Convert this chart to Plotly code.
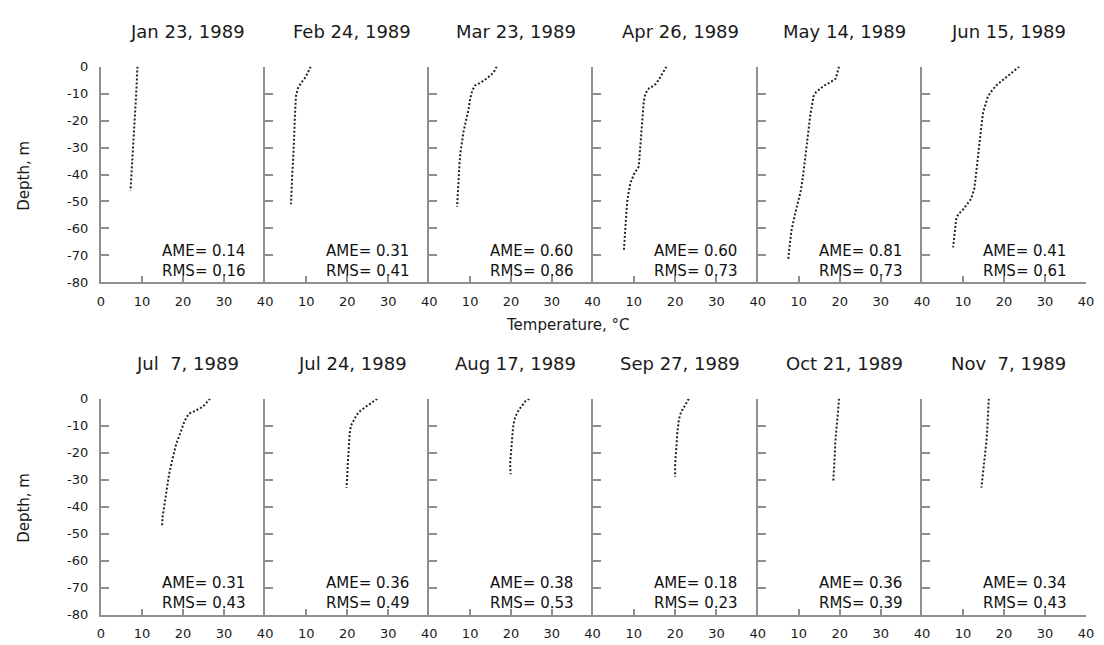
import plotly.graph_objects as go

# ---------------- data ----------------
dates = ["Jan 23, 1989", "Feb 24, 1989", "Mar 23, 1989", "Apr 26, 1989", "May 14, 1989", "Jun 15, 1989",
         "Jul  7, 1989", "Jul 24, 1989", "Aug 17, 1989", "Sep 27, 1989", "Oct 21, 1989", "Nov  7, 1989"]
ame = ["0.14", "0.31", "0.60", "0.60", "0.81", "0.41", "0.31", "0.36", "0.38", "0.18", "0.36", "0.34"]
rms = ["0.16", "0.41", "0.86", "0.73", "0.73", "0.61", "0.43", "0.49", "0.53", "0.23", "0.39", "0.43"]

x_ticks = [0, 10, 20, 30, 40]
y_ticks = [0, -10, -20, -30, -40, -50, -60, -70, -80]
y_ticklabels = ["0", "-10", "-20", "-30", "-40", "-50", "-60", "-70", "-80"]

jan23_t = [8.9, 8.8, 8.6, 8.4, 8.2, 8.0, 7.8, 7.6, 7.4, 7.2]
jan23_d = [0, -5, -10, -15, -20, -25, -30, -35, -40, -46]

feb24_t = [11.1, 10.5, 9.8, 8.8, 8.0, 7.5, 7.3, 7.2, 7.1, 7.0, 6.8, 6.6, 6.5, 6.3]
feb24_d = [0, -2, -4, -6, -8, -11, -15, -20, -25, -30, -35, -40, -45, -51]

mar23_t = [16.5, 16.0, 15.2, 14.0, 12.5, 11.2, 10.5, 10.0, 9.6, 9.0, 8.4, 8.0, 7.6, 7.4, 7.2, 7.0, 6.8]
mar23_d = [0, -1.5, -3, -4.5, -6, -7, -9, -12, -16, -20, -24, -28, -32, -36, -41, -46, -52]

apr26_t = [17.9, 17.2, 16.5, 16.0, 15.0, 13.7, 12.8, 12.4, 12.2, 12.0, 11.8, 11.6, 11.4, 11.2, 10.0,
           9.2, 8.7, 8.4, 8.2, 8.0, 7.8, 7.6]
apr26_d = [0, -2, -3.5, -5, -7, -8, -10, -13, -17, -21, -25, -29, -33, -37, -40,
           -43, -47, -50, -54, -58, -63, -68]

may14_t = [19.8, 19.5, 19.0, 17.5, 16.2, 15.0, 14.2, 13.6, 13.2, 12.8, 12.5, 12.2, 11.8, 11.4, 11.0,
           10.5, 9.8, 9.2, 8.6, 8.2, 7.8, 7.4]
may14_d = [0, -2, -4.5, -6, -7, -8.5, -9.5, -11, -14, -18, -22, -26, -31, -36, -41,
           -46, -50, -54, -58, -61, -66, -72]

jun15_t = [23.7, 22.5, 21.5, 20.5, 19.3, 18.1, 17.0, 16.1, 15.5, 14.9, 14.5, 14.1, 13.7, 13.3, 12.8,
           12.0, 11.0, 10.0, 9.0, 8.4, 8.1, 7.8, 7.6]
jun15_d = [0, -1.5, -2.5, -4, -5.5, -7, -9, -11, -14, -17, -22, -28, -34, -40, -45,
           -49, -51, -53, -54.5, -56, -60, -64, -67]

jul07_t = [26.6, 25.8, 24.8, 23.0, 21.5, 20.8, 20.2, 19.5, 19.0, 18.3, 17.8, 17.2, 16.6, 16.2, 15.8,
           15.4, 15.0, 14.9]
jul07_d = [0, -1.5, -3, -4.5, -5.5, -7, -9, -12, -14, -17, -20, -24, -28, -32, -36, -40, -44, -47]

jul24_t = [27.3, 26.5, 25.5, 24.5, 23.2, 22.3, 21.5, 20.9, 20.6, 20.4, 20.2, 20.1, 20.0, 19.8]
jul24_d = [0, -1, -2, -3, -4.5, -6, -8, -10, -13, -17, -21, -25, -29, -33]

aug17_t = [24.5, 23.5, 22.8, 22.0, 21.3, 20.8, 20.5, 20.3, 20.1, 19.9, 19.8, 19.9]
aug17_d = [0, -1, -2.5, -4, -6, -8, -11, -14, -17, -20, -24, -28]

sep27_t = [23.3, 22.8, 22.2, 21.6, 21.2, 20.9, 20.7, 20.5, 20.4, 20.2, 20.1, 20.0, 20.0]
sep27_d = [0, -1.5, -3, -4.5, -6, -8, -10, -13, -16, -19, -22, -25, -29]

oct21_t = [19.8, 19.7, 19.5, 19.3, 19.1, 18.9, 18.8, 18.7, 18.5, 18.4]
oct21_d = [0, -3, -6, -9, -12, -16, -20, -24, -28, -31]

nov07_t = [16.3, 16.2, 16.1, 15.9, 15.7, 15.4, 15.1, 14.8, 14.5]
nov07_d = [0, -4, -8, -12, -16, -20, -24, -28, -33]

temps = [jan23_t, feb24_t, mar23_t, apr26_t, may14_t, jun15_t,
         jul07_t, jul24_t, aug17_t, sep27_t, oct21_t, nov07_t]
depths = [jan23_d, feb24_d, mar23_d, apr26_d, may14_d, jun15_d,
          jul07_d, jul24_d, aug17_d, sep27_d, oct21_d, nov07_d]

# ---------------- layout geometry (screen px) ----------------
W, H = 1104, 645
col_edges = [98, 264, 430, 595, 762, 928, 1094]
row_spans = [(61, 282), (401, 622)]
title_y = [25, 365]
FONT = "DejaVu Sans"
AXC = "#8f8f8f"


def px_x(p):
    return p / W


def px_y(p):
    return 1 - p / H


fig = go.Figure()
layout = dict(
    width=W, height=H, margin=dict(l=0, r=0, t=0, b=0),
    paper_bgcolor="white", plot_bgcolor="white", showlegend=False,
    font=dict(family=FONT, color="#1a1a1a", size=12),
)
annotations = []

for i in range(12):
    r, c = divmod(i, 6)
    n = i + 1
    xa = "xaxis" if n == 1 else f"xaxis{n}"
    ya = "yaxis" if n == 1 else f"yaxis{n}"
    xr = "x" if n == 1 else f"x{n}"
    yr = "y" if n == 1 else f"y{n}"
    x0, x1 = col_edges[c], col_edges[c + 1]
    top, bot = row_spans[r]

    fig.add_trace(go.Scatter(
        x=temps[i], y=depths[i], xaxis=xr, yaxis=yr, mode="lines",
        line=dict(color="#222222", width=2, dash="2px,2px"),
        cliponaxis=False, hoverinfo="skip",
    ))

    layout[xa] = dict(
        domain=[px_x(x0), px_x(x1)], anchor=yr, range=[0, 40],
        tickvals=x_ticks, ticktext=[("0" if c == 0 else "")] + [str(v) for v in x_ticks[1:]],
        ticks="inside", ticklen=6, tickwidth=1.5, tickcolor=AXC,
        showline=True, linecolor=AXC, linewidth=2, mirror=False,
        showgrid=False, zeroline=False, ticklabelstandoff=6,
        tickfont=dict(family=FONT, size=13, color="#1a1a1a"), fixedrange=True,
    )
    layout[ya] = dict(
        domain=[px_y(bot), px_y(top)], anchor=xr, range=[-80, 0],
        tickvals=y_ticks, ticktext=y_ticklabels, showticklabels=(c == 0),
        ticks="inside", ticklen=8, tickwidth=1.5, tickcolor=AXC,
        showline=True, linecolor=AXC, linewidth=2, mirror=False,
        showgrid=False, zeroline=False, ticklabelstandoff=8,
        tickfont=dict(family=FONT, size=13, color="#1a1a1a"), fixedrange=True,
    )

    annotations.append(dict(
        text=dates[i], xref="paper", yref="paper", x=px_x((x0 + x1) / 2 + 5), y=px_y(title_y[r]),
        xanchor="center", yanchor="middle", showarrow=False,
        font=dict(family=FONT, size=18, color="#1a1a1a"),
    ))
    annotations.append(dict(
        text="AME= " + ame[i] + "<br>RMS= " + rms[i],
        xref=f"{xr} domain", yref=f"{yr} domain", x=0.36, y=0.10,
        xanchor="left", yanchor="middle", align="left", showarrow=False,
        font=dict(family=FONT, size=15, color="#111"),
    ))

for yc in (173, 513):
    annotations.append(dict(
        text="Depth, m", xref="paper", yref="paper", x=px_x(20), y=px_y(yc), textangle=-90,
        xanchor="center", yanchor="middle", showarrow=False,
        font=dict(family=FONT, size=15, color="#1a1a1a"),
    ))
annotations.append(dict(
    text="Temperature, °C", xref="paper", yref="paper", x=px_x(570), y=px_y(326),
    xanchor="center", yanchor="middle", showarrow=False,
    font=dict(family=FONT, size=15, color="#1a1a1a"),
))

layout["annotations"] = annotations
fig.update_layout(**layout)
fig.write_html("out.html")
